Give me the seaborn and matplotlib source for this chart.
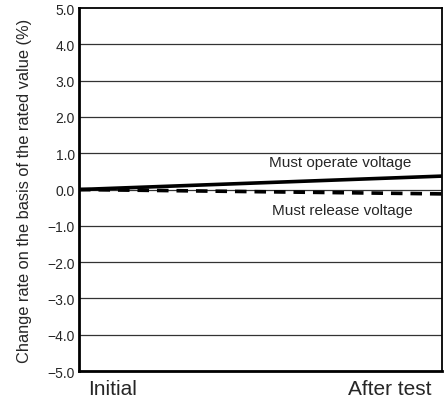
import pandas as pd
import seaborn as sns
from matplotlib import pyplot as plt

# values
stages = ['Initial', 'After test']
stage_pos = [0.0, 1.0]
operate_values = [0.0, 0.37]
release_values = [0.0, -0.12]
y_ticks = [-5.0, -4.0, -3.0, -2.0, -1.0, 0.0, 1.0, 2.0, 3.0, 4.0, 5.0]

sns.set_style('white')
plt.rcParams['font.family'] = ['Liberation Sans', 'DejaVu Sans']

df = pd.DataFrame({
    'pos': stage_pos * 2,
    'value': operate_values + release_values,
    'series': ['Must operate voltage'] * 2 + ['Must release voltage'] * 2,
})

fig = plt.figure(figsize=(4.45, 4.06), dpi=100)
ax = fig.add_axes([0.1775, 0.0837, 0.8155, 0.894])

for y in y_ticks[1:-1]:
    ax.axhline(y, color='#333333', lw=0.9, zorder=1)

sns.lineplot(data=df[df.series == 'Must operate voltage'], x='pos', y='value',
             color='black', lw=2.6, ax=ax, zorder=3)
sns.lineplot(data=df[df.series == 'Must release voltage'], x='pos', y='value',
             color='black', lw=2.6, ax=ax, zorder=3, linestyle=(0, (3.2, 2.2)))

ax.set_xlim(0, 1)
ax.set_ylim(-5, 5)
ax.set_yticks(y_ticks)
ax.set_yticklabels([f'{v:.1f}'.replace('-', '\u2212') for v in y_ticks], fontsize=10)
ax.set_xticks([0.092, 0.855])
ax.set_xticklabels(stages, fontsize=15)
ax.tick_params(axis='both', length=0)
ax.tick_params(axis='y', pad=3)
ax.tick_params(axis='x', pad=6)

ax.set_xlabel('')
ax.set_ylabel('Change rate on the basis of the rated value (%)', fontsize=11.8, labelpad=11)

ax.text(0.72, 0.76, 'Must operate voltage', ha='center', va='center', fontsize=11)
ax.text(0.725, -0.56, 'Must release voltage', ha='center', va='center', fontsize=11)

for side in ['top', 'right']:
    ax.spines[side].set_linewidth(1.3)
    ax.spines[side].set_color('black')
for side in ['left', 'bottom']:
    ax.spines[side].set_linewidth(2.0)
    ax.spines[side].set_color('black')

fig.savefig('out.png', dpi=100)
